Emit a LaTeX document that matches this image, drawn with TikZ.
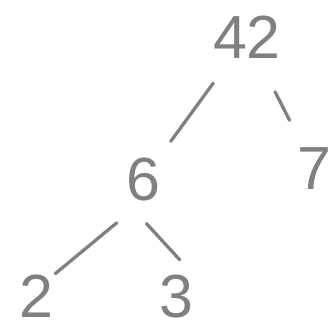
\documentclass[tikz,border=0pt]{standalone}
\usepackage{fontspec}
\setmainfont{Liberation Sans}
\usepackage{xcolor}
\usetikzlibrary{positioning}
\definecolor{pencil}{rgb}{0.50,0.50,0.50}

\begin{document}
\begin{tikzpicture}[every node/.style={font=\fontsize{52}{52}\selectfont}]
\tikzstyle{digit}=[text=pencil,inner sep=0pt]
\tikzstyle{edge}=[draw=pencil,line width=2.8pt,line cap=round]
\useasboundingbox (0,0) rectangle (9.99,-9.96);
\node[digit] at (7.41,-1.11) (n42) {42};
\node[digit,below=2.97cm of n42, xshift=-3.12cm] (n6) {6};
\node[digit,below=2.67cm of n42, xshift=2.02cm] (n7) {7};
\node[digit,below=2.22cm of n6, xshift=-3.2cm] (n2) {2};
\node[digit,below=2.20cm of n6, xshift=0.99cm] (n3) {3};

\draw[edge,shorten <=26pt,shorten >=17pt] (n42) -- (n6);
\draw[edge,shorten <=32pt,shorten >=26pt] (n42) -- (n7);
\draw[edge,shorten <=29pt,shorten >=2pt] (n6.south) -- (n2.north east);
\draw[edge,shorten <=26pt,shorten >=17pt] (n6.south west) -- (n3.north east);
\end{tikzpicture}
\end{document}
